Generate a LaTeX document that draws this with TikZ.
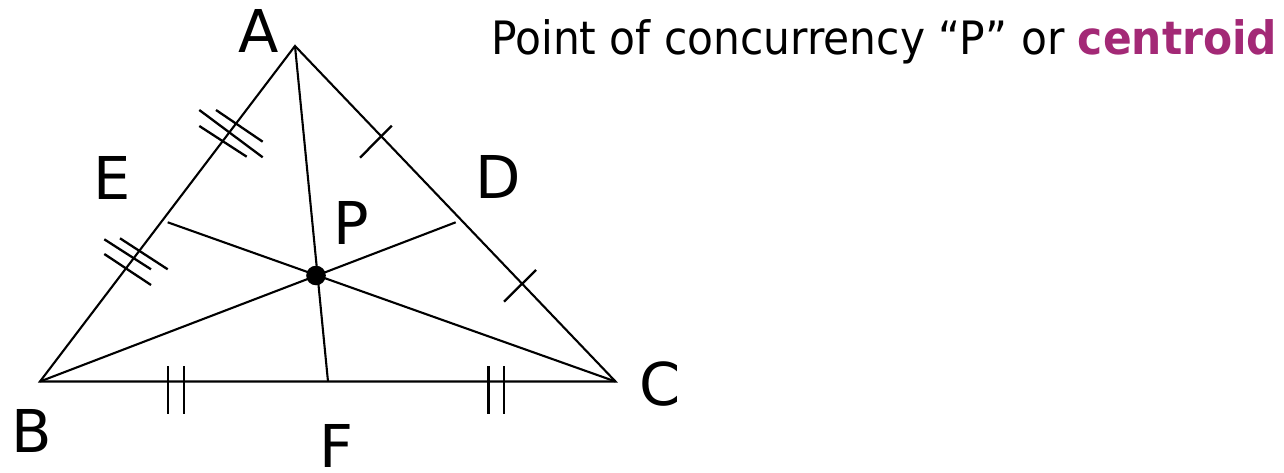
\documentclass[tikz,border=0pt]{standalone}
\usepackage{fontspec}
\setmainfont{DejaVu Sans}
\definecolor{centroidpurple}{RGB}{163,41,118}
\begin{document}
\begin{tikzpicture}[x=1pt,y=-1pt,
  side/.style={line width=2.1pt},
  median/.style={line width=2.1pt},
  tickmark/.style={line width=2.3pt},
  vlabel/.style={inner sep=0pt,font=\fontsize{59}{59}\selectfont}]
\useasboundingbox (0,0) rectangle (1284,473);
% vertices
\coordinate (A) at (295,46);
\coordinate (B) at (40,381.5);
\coordinate (C) at (615.5,381.5);
\coordinate (F) at (328,381.5);
\coordinate (De) at (455.7,222.3);
\coordinate (Ee) at (167.7,222.3);
\coordinate (P) at (316,275.5);
% triangle
\draw[side,line join=miter] (A) -- (B) -- (C) -- cycle;
% medians
\draw[median] (A) -- (F);
\draw[median] (B) -- (De);
\draw[median] (C) -- (Ee);
\fill (P) circle (9.8);
% ticks on AB (triple)
\draw[tickmark] (199.3,110) -- (262.7,157.3);
\draw[tickmark] (216,110) -- (262.7,141.7);
\draw[tickmark] (199.3,126) -- (246.7,156.7);
\draw[tickmark] (104.3,239.3) -- (151,269.3);
\draw[tickmark] (120,238.3) -- (167.7,269.3);
\draw[tickmark] (104.3,254) -- (151,285);
% ticks on AC (single)
\draw[tickmark] (360,157.7) -- (391.7,125.7);
\draw[tickmark] (504,301.7) -- (536,270);
% ticks on BC (double)
\draw[tickmark] (168,366) -- (168,414);
\draw[tickmark] (184,366) -- (184,414);
\draw[tickmark] (488.5,366) -- (488.5,414);
\draw[tickmark] (504,366) -- (504,414);
% labels
\node[vlabel] (lA) at (259,31) {A};
\node[vlabel] (lE) at (112.5,177.5) {E};
\node[vlabel] (lD) at (498,177) {D};
\node[vlabel] (lP) at (351,222.5) {P};
\node[vlabel] (lB) at (31.3,431) {B};
\node[vlabel] (lC) at (660,384) {C};
\node[vlabel] (lF) at (336,446) {F};
% title
\node[anchor=base west,inner sep=0pt,font=\fontsize{46}{46}\selectfont] (title) at (491,54.3)
  {\resizebox{786pt}{\height}{Point of concurrency “P” or \textbf{\color{centroidpurple}centroid}}};
\end{tikzpicture}
\end{document}
